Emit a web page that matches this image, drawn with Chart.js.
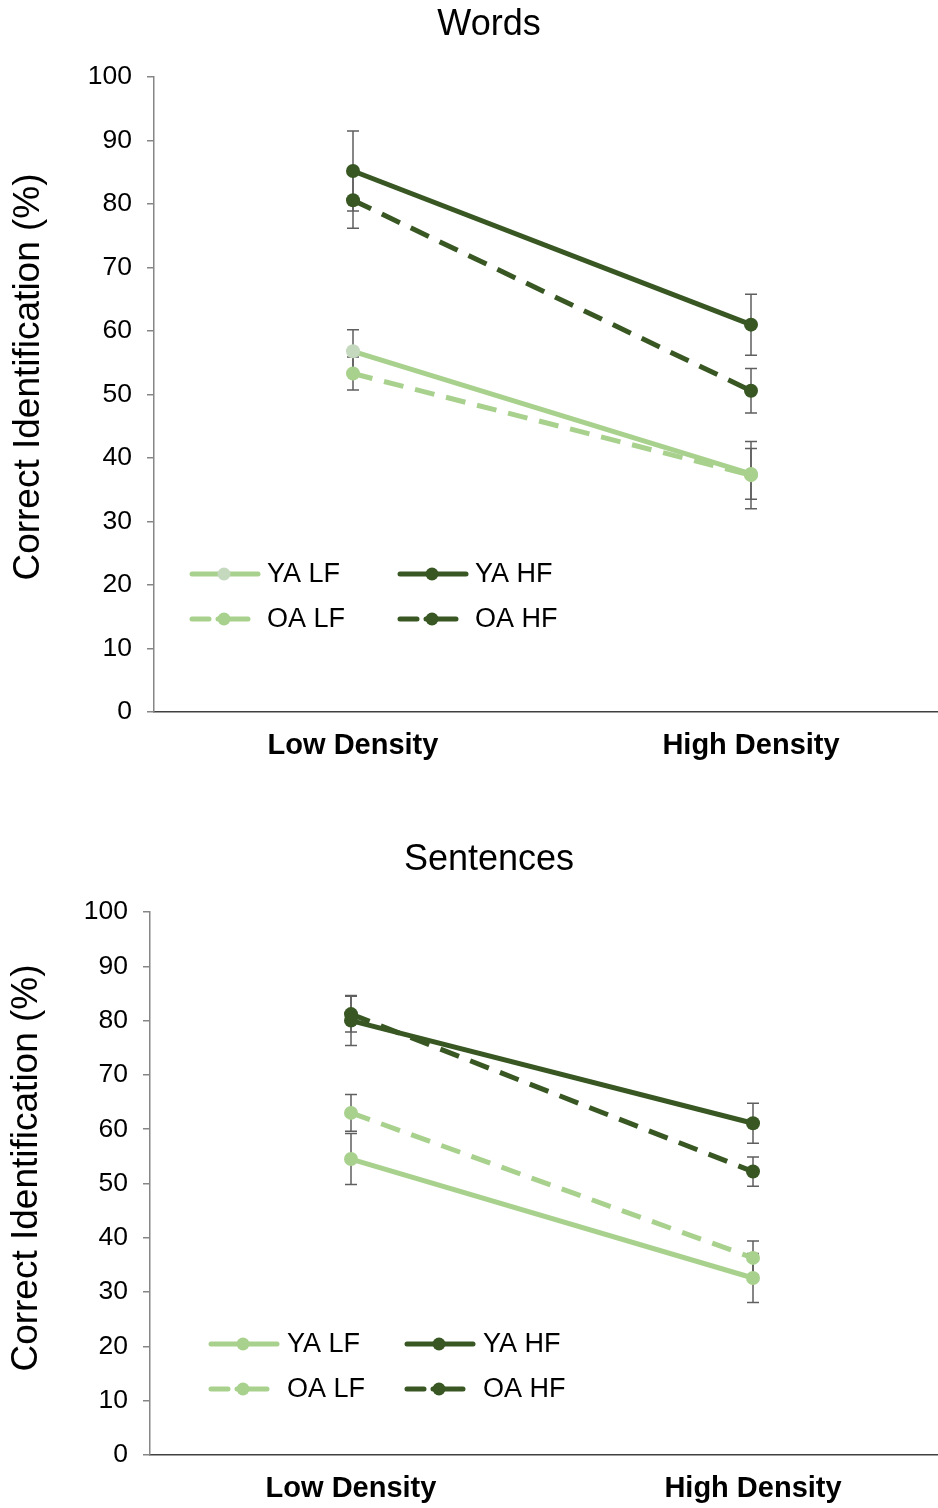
<!DOCTYPE html>
<html>
<head>
<meta charset="utf-8">
<script src="https://cdn.jsdelivr.net/npm/chart.js@4.4.1/dist/chart.umd.min.js"></script>
<style>
  html, body { margin: 0; padding: 0; background: #fff; overflow: hidden; width: 938px; height: 1508px; }
  .panel { position: absolute; left: 0; }
  #wordsBox { top: 1px; height: 770px; width: 957px; }
  #sentBox { top: 835px; height: 673px; width: 961px; }
</style>
</head>
<body>
<div class="panel" id="wordsBox"><canvas id="wordsChart" width="957" height="770"></canvas></div>
<div class="panel" id="sentBox"><canvas id="sentChart" width="961" height="673"></canvas></div>
<script>
const categories = ["Low Density", "High Density"];
const seriesNames = ["YA LF", "YA HF", "OA LF", "OA HF"];

// Words (percent correct) and error bar half-widths
const wordsYaLf = [56.8, 37.5];
const wordsYaHf = [85.2, 61.0];
const wordsOaLf = [53.3, 37.3];
const wordsOaHf = [80.6, 50.6];
const wordsYaLfErr = [3.4, 4.0];
const wordsYaHfErr = [6.3, 4.8];
const wordsOaLfErr = [2.6, 5.3];
const wordsOaHfErr = [4.4, 3.5];

// Sentences
const sentYaLf = [54.5, 32.6];
const sentYaHf = [80.0, 61.1];
const sentOaLf = [63.0, 36.3];
const sentOaHf = [81.2, 52.2];
const sentYaLfErr = [4.7, 4.5];
const sentYaHfErr = [4.6, 3.7];
const sentOaLfErr = [3.4, 3.1];
const sentOaHfErr = [3.3, 2.7];

const yTicks = [0, 10, 20, 30, 40, 50, 60, 70, 80, 90, 100];

const FONT = "'Liberation Sans', Arial, sans-serif";
const LIGHT = "#A9D18E";
const DARK = "#385723";
const DASH = [20, 12];

// Error bars, drawn under the points
const errorBarPlugin = {
  id: "errorBars",
  beforeDatasetsDraw(chart, args, opts) {
    const ctx = chart.ctx;
    const y = chart.scales.y;
    ctx.save();
    ctx.strokeStyle = "#5f5f5f";
    ctx.lineWidth = 1.5;
    chart.data.datasets.forEach((ds, i) => {
      const errs = opts.errors[i];
      chart.getDatasetMeta(i).data.forEach((pt, j) => {
        const top = y.getPixelForValue(ds.data[j] + errs[j]);
        const bot = y.getPixelForValue(ds.data[j] - errs[j]);
        ctx.beginPath();
        ctx.moveTo(pt.x, top); ctx.lineTo(pt.x, bot);
        ctx.moveTo(pt.x - 6, top); ctx.lineTo(pt.x + 6, top);
        ctx.moveTo(pt.x - 6, bot); ctx.lineTo(pt.x + 6, bot);
        ctx.stroke();
      });
    });
    ctx.restore();
  }
};

// Titles and the legend inside the plot
const decorPlugin = {
  id: "decor",
  afterDraw(chart, args, opts) {
    const ctx = chart.ctx;
    ctx.save();
    ctx.fillStyle = "#000";
    ctx.font = "36px " + FONT;
    ctx.textAlign = "center";
    ctx.textBaseline = "alphabetic";
    ctx.fillText(opts.title, opts.titleX, opts.titleY);

    ctx.save();
    ctx.translate(opts.yTitleX, opts.yTitleY);
    ctx.rotate(-Math.PI / 2);
    ctx.textBaseline = "middle";
    ctx.font = "37px " + FONT;
    ctx.fillText("Correct Identification (%)", 0, 0);
    ctx.restore();

    ctx.font = "27px " + FONT;
    ctx.textAlign = "left";
    ctx.textBaseline = "middle";
    chart.data.datasets.forEach((ds, i) => {
      const x0 = opts.legendX + (i % 2) * opts.legendColW;
      const yy = opts.legendY + Math.floor(i / 2) * opts.legendRowH;
      ctx.strokeStyle = ds.borderColor;
      ctx.lineWidth = 5;
      ctx.lineCap = "round";
      ctx.beginPath();
      if (ds.borderDash && ds.borderDash.length) {
        ctx.moveTo(x0 + 2, yy); ctx.lineTo(x0 + 19, yy);
        ctx.moveTo(x0 + 28, yy); ctx.lineTo(x0 + 58, yy);
      } else {
        ctx.moveTo(x0 + 2, yy); ctx.lineTo(x0 + 68, yy);
      }
      ctx.stroke();
      const mc = Array.isArray(ds.pointBackgroundColor) ? ds.pointBackgroundColor[0] : ds.pointBackgroundColor;
      ctx.fillStyle = mc;
      ctx.beginPath();
      ctx.arc(x0 + 34, yy, 6.5, 0, Math.PI * 2);
      ctx.fill();
      ctx.fillStyle = "#000";
      ctx.fillText(ds.label, x0 + opts.legendTextOff, yy + 1);
    });
    ctx.restore();
  }
};

function makeDataset(label, data, color, dashed, pointColors) {
  return {
    label,
    data,
    borderColor: color,
    backgroundColor: color,
    borderWidth: 5,
    borderDash: dashed ? DASH : [],
    pointRadius: 7,
    pointHoverRadius: 7,
    pointBorderWidth: 0,
    pointBackgroundColor: pointColors || color,
    tension: 0,
    clip: false
  };
}

function buildChart(canvasId, datasets, errors, cfg) {
  return new Chart(document.getElementById(canvasId), {
    type: "line",
    data: { labels: categories, datasets },
    plugins: [errorBarPlugin, decorPlugin],
    options: {
      responsive: false,
      animation: false,
      devicePixelRatio: 1,
      layout: { padding: { top: cfg.top, left: 0, right: 0, bottom: 0 } },
      plugins: {
        legend: { display: false },
        tooltip: { enabled: false },
        errorBars: { errors },
        decor: cfg.decor
      },
      scales: {
        x: {
          type: "category",
          offset: true,
          afterFit: s => { s.height = cfg.xHeight; },
          grid: { display: false, drawTicks: false },
          border: { display: true, color: "#404040", width: 1.5 },
          ticks: { color: "#000", padding: 17, font: { family: FONT, size: 29, weight: "bold" } }
        },
        y: {
          min: 0,
          max: 100,
          afterFit: s => { s.width = cfg.yWidth; },
          afterBuildTicks: s => { s.ticks = yTicks.map(v => ({ value: v })); },
          grid: { drawOnChartArea: false, drawTicks: true, tickLength: 7, color: "#868686", lineWidth: 1.5 },
          border: { display: true, color: "#868686", width: 1.5 },
          ticks: { color: "#000", padding: 15, font: { family: FONT, size: 26.5 } }
        }
      }
    }
  });
}

buildChart("wordsChart", [
  makeDataset(seriesNames[0], wordsYaLf, LIGHT, false, ["#C5D9BE", LIGHT]),
  makeDataset(seriesNames[1], wordsYaHf, DARK, false),
  makeDataset(seriesNames[2], wordsOaLf, LIGHT, true),
  makeDataset(seriesNames[3], wordsOaHf, DARK, true)
], [wordsYaLfErr, wordsYaHfErr, wordsOaLfErr, wordsOaHfErr], {
  top: 76,
  xHeight: 59,
  yWidth: 154,
  decor: {
    title: "Words", titleX: 489, titleY: 34,
    yTitleX: 29, yTitleY: 376,
    legendX: 190, legendY: 573, legendColW: 208, legendRowH: 45, legendTextOff: 77
  }
});

buildChart("sentChart", [
  makeDataset(seriesNames[0], sentYaLf, LIGHT, false),
  makeDataset(seriesNames[1], sentYaHf, DARK, false),
  makeDataset(seriesNames[2], sentOaLf, LIGHT, true),
  makeDataset(seriesNames[3], sentOaHf, DARK, true)
], [sentYaLfErr, sentYaHfErr, sentOaLfErr, sentOaHfErr], {
  top: 77,
  xHeight: 53,
  yWidth: 150,
  decor: {
    title: "Sentences", titleX: 489, titleY: 35,
    yTitleX: 27, yTitleY: 333,
    legendX: 209, legendY: 509, legendColW: 196, legendRowH: 45, legendTextOff: 78
  }
});
</script>
</body>
</html>
